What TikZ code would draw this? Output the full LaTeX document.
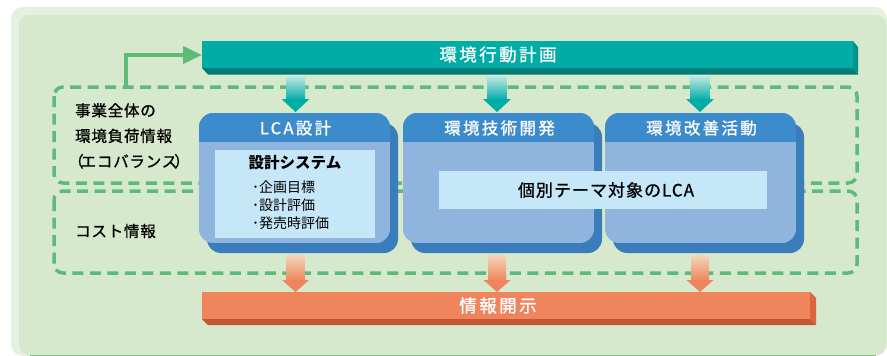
\documentclass[tikz,border=0pt]{standalone}
\usepackage{fontspec}
\setmainfont{Noto Sans CJK JP}
\newfontfamily\medwide[FakeBold=1.1,LetterSpace=14]{Noto Sans CJK JP}
\newfontfamily\medlab[FakeBold=0.9,LetterSpace=5]{Noto Sans CJK JP}
\newfontfamily\medtheme[FakeBold=0.8,LetterSpace=6]{Noto Sans CJK JP}
\usetikzlibrary{arrows.meta}
\definecolor{outerbg}{HTML}{E5F0DF}
\definecolor{innerbg}{HTML}{D6E9CC}
\definecolor{dashgreen}{HTML}{5DBA78}
\definecolor{teal1}{HTML}{00ACA6}
\definecolor{teal2}{HTML}{007C77}
\definecolor{teal3}{HTML}{00928C}
\definecolor{tealtop}{HTML}{C9EBE5}
\definecolor{bhead}{HTML}{3C8CCD}
\definecolor{bbody}{HTML}{8FB4DE}
\definecolor{bshadow}{HTML}{3A7DBA}
\definecolor{blight}{HTML}{C6E7F8}
\definecolor{orng1}{HTML}{EF845D}
\definecolor{orng2}{HTML}{C3552F}
\definecolor{orng3}{HTML}{D9663C}
\definecolor{orngtop}{HTML}{F3D6B8}
\tikzset{
  dashbox/.style={draw=dashgreen, line width=3.5pt, dash pattern=on 11pt off 6.5pt, rounded corners=9pt},
  headtext/.style={text=white, font=\medwide\fontsize{16.5}{16.5}\selectfont, inner sep=0pt},
  bartext/.style={text=white, font=\medwide\fontsize{17.5}{17.5}\selectfont, inner sep=0pt},
  labeltext/.style={text=black, font=\medlab\fontsize{15.5}{25.5}\selectfont, inner sep=0pt, align=left},
  itemtext/.style={text=black, font=\fontsize{14}{18}\selectfont, inner sep=0pt, align=left},
}
\newcommand\mybluebox[3]{%
  \fill[bshadow, rounded corners=14pt] (#1+8,123) rectangle (#1+199,253);
  \begin{scope}
    \clip[rounded corners=14pt] (#1,113) rectangle (#1+191,243);
    \fill[bbody] (#1,113) rectangle (#1+191,243);
    \fill[bhead] (#1,113) rectangle (#1+191,142);
  \end{scope}
  \coordinate (#2) at (#1+95.5,113);
  \node[headtext] (#2t) at (#1+96.5,128) {#3};
}
\newcommand\tealarrow[1]{%
  \shade[top color=tealtop, bottom color=teal1] (#1-9.5,75) rectangle (#1+9.5,100);
  \fill[teal1] (#1-14,99) -- (#1+14,99) -- (#1,112) -- cycle;
}
\newcommand\orangearrow[1]{%
  \shade[top color=orngtop, bottom color=orng1] (#1-9,255) rectangle (#1+9,281);
  \fill[orng1] (#1-13.5,280) -- (#1+13.5,280) -- (#1,292) -- cycle;
}
\begin{document}
\begin{tikzpicture}[x=1pt,y=-1pt]
\useasboundingbox (0,0) rectangle (887,356);
% panel
\fill[outerbg, rounded corners=12pt] (11,7) rectangle (887,356);
\fill[innerbg, rounded corners=10pt] (19,15) rectangle (886,355);
\draw[dashgreen!80!innerbg, line width=1pt] (30,355.2) -- (876,355.2);
% dashed regions
\draw[dashbox] (54,87) rectangle (857,183);
\draw[dashbox] (54,191) rectangle (857,273);
% teal bar
\fill[teal2] (202,68) -- (853,68) -- (858,74.5) -- (208,74.5) -- cycle;
\fill[teal3] (853,41) -- (858,47) -- (858,74.5) -- (853,68) -- cycle;
\fill[teal1] (202,41) rectangle (853,68);
\node[bartext] (plan) at (498,54.5) {環境行動計画};
\coordinate (planwest) at (202,55);
% green feedback arrow
\coordinate (fbstart) at (126,87);
\draw[dashgreen, line width=4pt, -{Triangle[length=19pt,width=17pt]}] (fbstart) |- (planwest);
% orange bar
\fill[orng2] (202,319) -- (810,319) -- (816,325) -- (208,325) -- cycle;
\fill[orng3] (810,292) -- (816,298) -- (816,325) -- (810,319) -- cycle;
\fill[orng1] (202,292) rectangle (810,319);
\node[bartext] (disc) at (498,305.5) {情報開示};
% blue boxes
\mybluebox{199}{lca}{LCA設計}
\mybluebox{403}{tech}{環境技術開発}
\mybluebox{605}{kaizen}{環境改善活動}
% inner light boxes
\fill[blight] (215,150) rectangle (375,238);
\node[font=\bfseries\fontsize{15.5}{15.5}\selectfont, inner sep=0pt] (sys) at (295,163) {設計システム};
\node[itemtext, anchor=north west] (items) at (252,180) {･企画目標\\･設計評価\\･発売時評価};
\fill[blight] (439,171) rectangle (767,209);
\node[font=\medtheme\fontsize{17}{17}\selectfont, inner sep=0pt] (theme) at (606,190) {個別テーマ対象のLCA};
% arrows
\tealarrow{295.5}
\tealarrow{497}
\tealarrow{700}
\orangearrow{295.5}
\orangearrow{497}
\orangearrow{700}
% labels
\node[labeltext, anchor=north west] (eco) at (75,103) {事業全体の\\環境負荷情報\\\kern-7pt（\kern-3pt エコバランス\kern-3pt）};
\node[labeltext, anchor=west] (cost) at (75,231) {コスト情報};
\end{tikzpicture}
\end{document}
